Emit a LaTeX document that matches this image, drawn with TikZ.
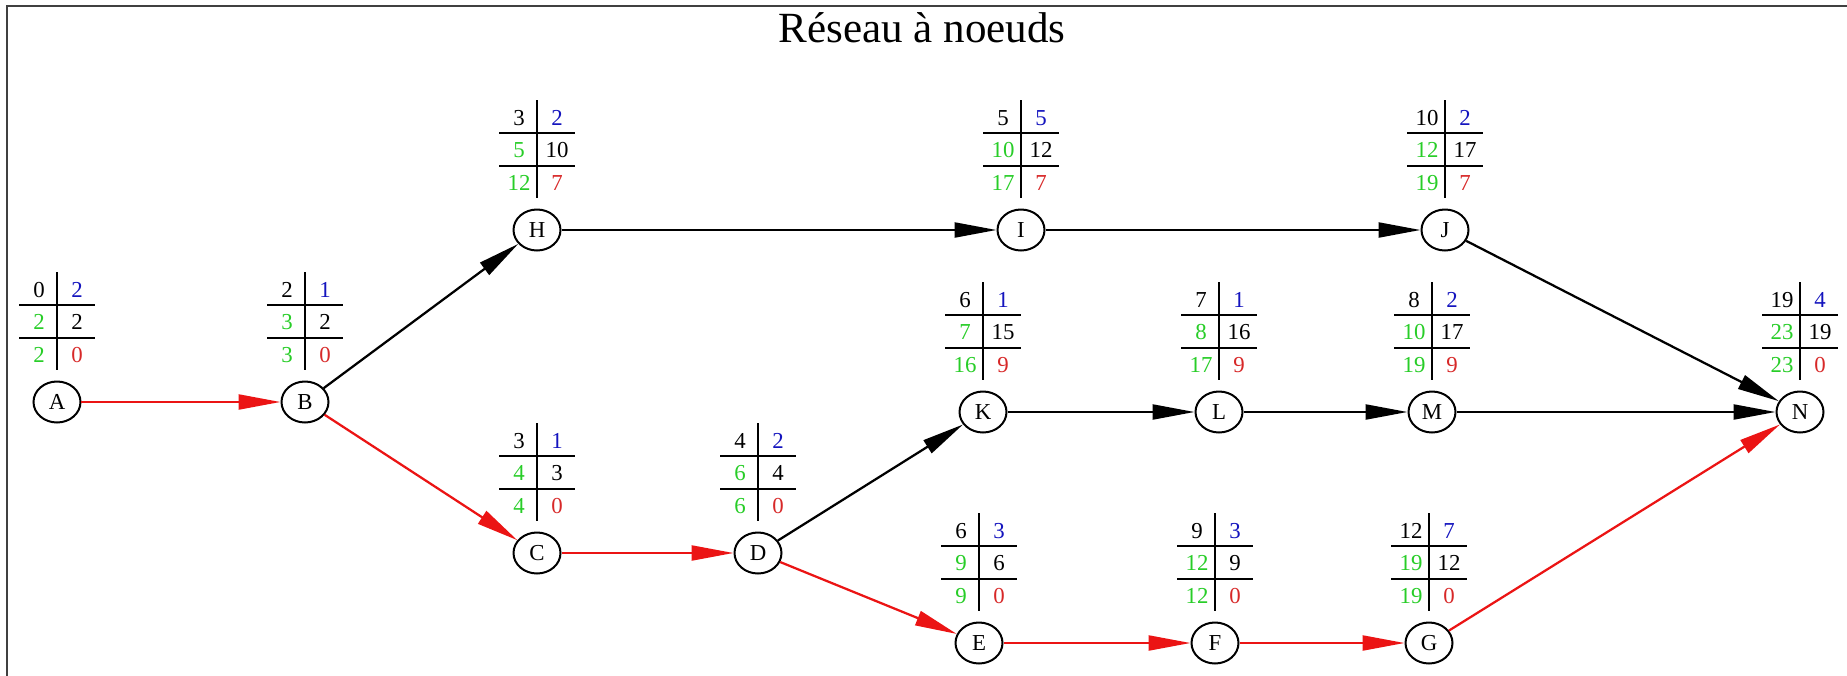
\documentclass[tikz,border=0pt]{standalone}
\usepackage{fontspec}
\setmainfont{Liberation Serif}
\usetikzlibrary{arrows.meta,shapes.geometric}

\definecolor{vertcase}{RGB}{40,205,40}
\definecolor{bleucase}{RGB}{20,20,190}
\definecolor{rougecase}{RGB}{215,40,40}
\definecolor{rougechemin}{RGB}{235,20,20}

\begin{document}
\begin{tikzpicture}[x=0.02cm, y=-0.02cm,
    >={Triangle[length=0.84cm, width=0.3cm]},
    every node/.style={font=\fontsize{13}{15}\selectfont},
    etape/.style={draw, ellipse, line width=0.04cm, minimum width=0.94cm, minimum height=0.82cm, inner sep=0pt},
    lien/.style={->, line width=0.045cm, black},
    critique/.style={lien, rougechemin},
    grille/.style={line width=0.045cm}]

\useasboundingbox (0,0) rectangle (1847,676);

% =============================================
% CADRE ET TITRE
% =============================================
\draw[line width=0.06cm, black!75] (1847,6) -- (7,6) -- (7,676);
\node[font=\fontsize{24.5}{29}\selectfont, anchor=base] (titre) at (922,42) {Réseau à noeuds};

% =============================================
% ETAPES
% =============================================
\node[etape] (A) at (57,402) {A};
\node[etape] (B) at (305,402) {B};

\node[etape] (H) at (537,230) {H};
\node[etape] (I) at (1021,230) {I};
\node[etape] (J) at (1445,230) {J};

\node[etape] (C) at (537,553) {C};
\node[etape] (D) at (758,553) {D};

\node[etape] (K) at (983,412) {K};
\node[etape] (L) at (1219,412) {L};
\node[etape] (M) at (1432,412) {M};
\node[etape] (N) at (1800,412) {N};

\node[etape] (E) at (979,643) {E};
\node[etape] (F) at (1215,643) {F};
\node[etape] (G) at (1429,643) {G};

% =============================================
% GRILLES (dates et marges)
% =============================================
\foreach \n/\a/\b/\c/\d/\e/\f in {A/0/2/2/2/2/0, B/2/1/3/2/3/0,
    H/3/2/5/10/12/7, I/5/5/10/12/17/7, J/10/2/12/17/19/7,
    C/3/1/4/3/4/0, D/4/2/6/4/6/0,
    K/6/1/7/15/16/9, L/7/1/8/16/17/9, M/8/2/10/17/19/9, N/19/4/23/19/23/0,
    E/6/3/9/6/9/0, F/9/3/12/9/12/0, G/12/7/19/12/19/0}{
  \begin{scope}[shift={(\n)}]
    \draw[grille] (0,-130) -- (0,-32);
    \draw[grille] (-38,-97) -- (38,-97);
    \draw[grille] (-38,-64) -- (38,-64);
    \node (\n1) at (-18,-112) {\a};
    \node[text=bleucase] (\n2) at (20,-112) {\b};
    \node[text=vertcase] (\n3) at (-18,-80) {\c};
    \node (\n4) at (20,-80) {\d};
    \node[text=vertcase] (\n5) at (-18,-47) {\e};
    \node[text=rougecase] (\n6) at (20,-47) {\f};
  \end{scope}
}

% =============================================
% LIENS (chemin critique en rouge)
% =============================================
\draw[critique] (A) -- (B);
\draw[critique] (B) -- (C);
\draw[critique] (C) -- (D);
\draw[critique] (D) -- (E);
\draw[critique] (E) -- (F);
\draw[critique] (F) -- (G);
\draw[critique] (G) -- (N);

\draw[lien] (B) -- (H);
\draw[lien] (H) -- (I);
\draw[lien] (I) -- (J);
\draw[lien] (J) -- (N);
\draw[lien] (D) -- (K);
\draw[lien] (K) -- (L);
\draw[lien] (L) -- (M);
\draw[lien] (M) -- (N);

\end{tikzpicture}
\end{document}
